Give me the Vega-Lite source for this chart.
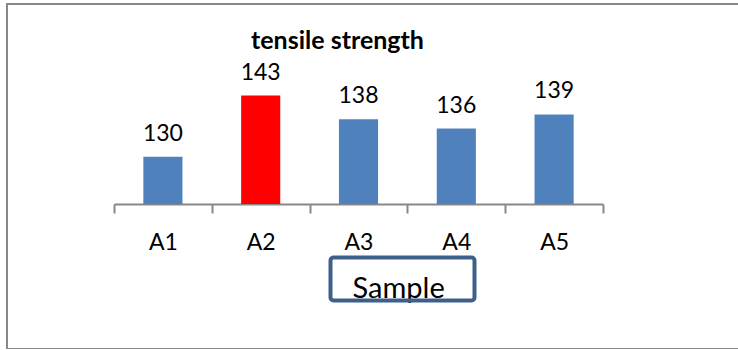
{
  "$schema": "https://vega.github.io/schema/vega-lite/v6.json",
  "width": 735,
  "height": 345,
  "autosize": "none",
  "padding": {"left": 7, "top": 4, "right": 0, "bottom": 0},
  "background": "white",
  "config": {
    "font": "Lato",
    "view": {"stroke": "#888888", "strokeWidth": 2},
    "legend": {"strokeWidth": 4}
  },
  "title": {"text": "tensile strength", "font": "Lato", "fontSize": 25, "fontWeight": "bold", "color": "black", "anchor": "middle", "frame": "group", "baseline": "alphabetic", "offset": 0, "dx": -37, "dy": 70},
  "data": {"values": [
    {"sample": "A1", "strength": 130, "group": "other"},
    {"sample": "A2", "strength": 143, "group": "highest"},
    {"sample": "A3", "strength": 138, "group": "other"},
    {"sample": "A4", "strength": 136, "group": "other"},
    {"sample": "A5", "strength": 139, "group": "other"}
  ]},
  "encoding": {
    "x": {"field": "sample", "type": "nominal", "sort": null,
      "scale": {"range": [107, 596], "paddingInner": 0, "paddingOuter": 0},
      "axis": {"orient": "bottom", "offset": -145, "title": "Sample", "titleFont": "Lato", "titleFontSize": 29, "titleFontWeight": "normal", "titleColor": "black", "titleX": 345, "titleY": 93, "titleAlign": "left", "titleAnchor": "start", "titleBaseline": "alphabetic", "labelAngle": 0, "labelFontSize": 23, "labelColor": "black", "labelPadding": 18, "tickBand": "extent", "tickSize": 9, "tickWidth": 2, "tickColor": "#888888", "domainColor": "#888888", "domainWidth": 2, "grid": false}},
    "y": {"field": "strength", "type": "quantitative", "scale": {"domain": [89.25, 162.42], "nice": false, "zero": false}, "axis": null}
  },
  "layer": [
    {"mark": {"type": "bar", "width": {"band": 0.4}},
     "encoding": {
       "y2": {"datum": 120},
       "color": {"field": "group", "type": "nominal",
         "scale": {"domain": ["other", "highest"], "range": ["#4f81bd", "#ff0000"]},
         "legend": {"title": null, "orient": "none", "direction": "horizontal", "legendX": 323.5, "legendY": 253.5, "values": ["other", "highest"], "labelExpr": "''", "labelFontSize": 1, "symbolType": "square", "symbolSize": 1849, "symbolOpacity": 0, "symbolStrokeWidth": 0, "labelOffset": 0, "columnPadding": 58, "padding": 0, "strokeColor": "#3d5f8b", "cornerRadius": 3, "fillColor": "transparent"}}}},
    {"mark": {"type": "text", "baseline": "alphabetic", "dy": -16, "fontSize": 23, "color": "black"},
     "encoding": {"text": {"field": "strength"}}}
  ]
}
